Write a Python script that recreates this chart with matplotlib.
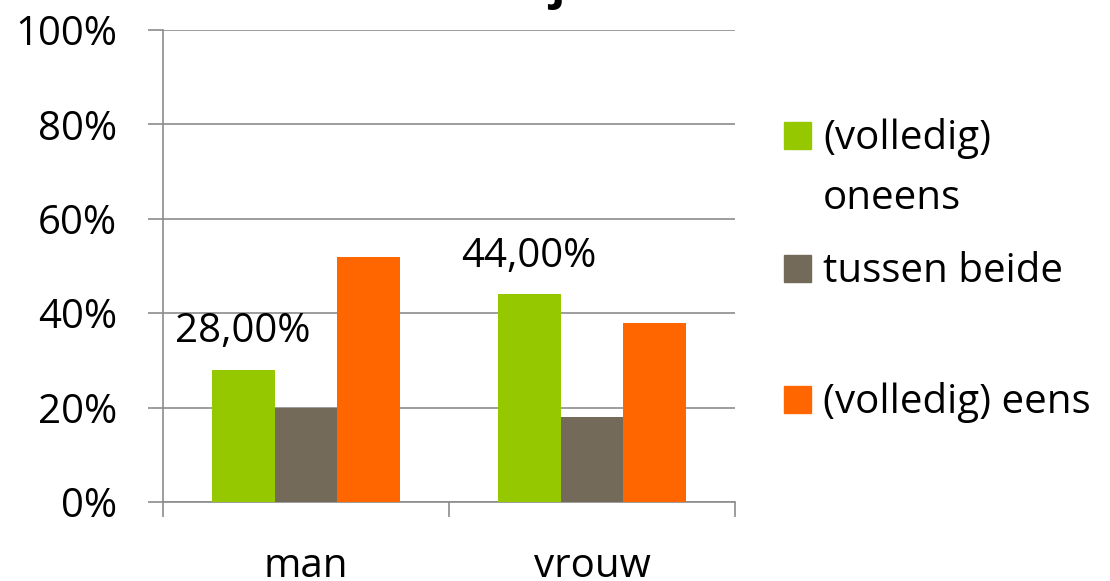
import matplotlib.pyplot as plt
from matplotlib.patches import Rectangle
import numpy as np

plt.rcParams['font.family'] = ['Open Sans', 'DejaVu Sans']

categories = ['man', 'vrouw']
series = ['(volledig)\noneens', 'tussen beide', '(volledig) eens']
oneens = [28, 44]
tussen = [20, 18]
eens = [52, 38]
colors = ['#96C800', '#736A5A', '#FF6600']

FS = 29
fig = plt.figure(figsize=(11.1, 5.81), dpi=100)
W, H = 1110, 581
ax = fig.add_axes([163 / W, 1 - 502 / H, (735 - 163) / W, (502 - 30) / H])

x = np.arange(len(categories))
bw = 0.22
values = [oneens, tussen, eens]
for i, vals in enumerate(values):
    ax.bar(x + (i - 1) * bw, vals, bw, color=colors[i], zorder=3)

# datalabels only for the first series
for xi, v in zip(x, oneens):
    ax.text(xi - bw, v + 5.8, f'{v:.2f}%'.replace('.', ','), ha='center', va='baseline',
            fontsize=FS, color='black')

ax.set_xlim(-0.5, 1.5)
ax.set_ylim(0, 100)
ax.set_yticks(range(0, 101, 20))
ax.set_yticklabels([f'{t}%' for t in range(0, 101, 20)], fontsize=FS)
ax.yaxis.grid(True, color='#8C8C8C', linewidth=1.2, zorder=0)
ax.set_xticks([-0.5, 0.5, 1.5])
ax.set_xticklabels([])
ax.set_xticks(x, minor=True)
ax.set_xticklabels(categories, minor=True, fontsize=FS)
ax.tick_params(axis='x', which='major', length=11, color='#8C8C8C', width=1.2)
ax.tick_params(axis='x', which='minor', length=0, pad=32)
ax.tick_params(axis='y', length=11, color='#8C8C8C', width=1.2, pad=22)
for s in ['top', 'right']:
    ax.spines[s].set_visible(False)
for s in ['left', 'bottom']:
    ax.spines[s].set_color('#8C8C8C')
    ax.spines[s].set_linewidth(1.2)

# legend drawn by hand
leg_base = [149, 282, 413]
for lbl, c, yy in zip(series, colors, leg_base):
    fig.patches.append(Rectangle((784 / W, 1 - yy / H), 27 / W, 27 / H,
                                 transform=fig.transFigure, color=c))
    for j, line in enumerate(lbl.split('\n')):
        fig.text(823 / W, 1 - (yy + 60 * j) / H, line, fontsize=FS, va='baseline', ha='left')

# cut-off title (only the hook of the j is visible)
fig.text(557 / W, 1 + 13 / H, 'j', fontsize=34, fontweight='bold', ha='center', va='center')

fig.savefig('out.png', dpi=100)
